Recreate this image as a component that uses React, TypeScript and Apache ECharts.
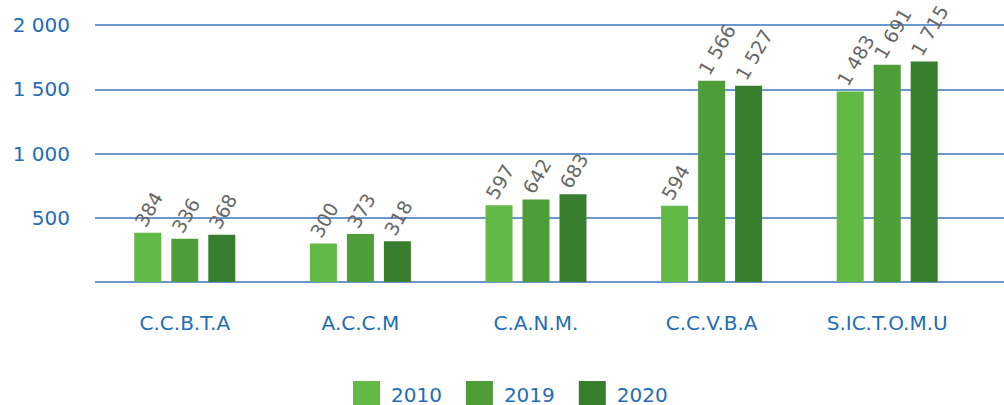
import React, { useEffect, useRef } from "react";
import * as echarts from "echarts";

const categories = ["C.C.B.T.A", "A.C.C.M", "C.A.N.M.", "C.C.V.B.A", "S.IC.T.O.M.U"];
const seriesNames = ["2010", "2019", "2020"];
const values2010 = [384, 300, 597, 594, 1483];
const values2019 = [336, 373, 642, 1566, 1691];
const values2020 = [368, 318, 683, 1527, 1715];
const colors = ["#62b946", "#4f9d38", "#377e2e"];

const fmt = (v: number) => String(v).replace(/\B(?=(\d{3})+(?!\d))/g, " ");

export default function App() {
  const ref = useRef<HTMLDivElement>(null);
  useEffect(() => {
    if (!ref.current) return;
    const chart = echarts.init(ref.current, undefined, { renderer: "svg" });
    const font = "'DejaVu Sans', sans-serif";
    const blue = "#1f6db5";
    const lineColor = "#3a76bb";
    const allValues = [values2010, values2019, values2020];
    chart.setOption({
      animation: false,
      textStyle: { fontFamily: font },
      grid: [
        { left: 97, right: 29, top: 25, height: 257 },
        { left: 95, right: 0, top: 25, height: 257 },
      ],
      legend: {
        data: seriesNames,
        left: 353,
        top: 381,
        padding: 0,
        itemWidth: 27,
        itemHeight: 27,
        itemGap: 24,
        icon: "rect",
        textStyle: { color: blue, fontSize: 20, fontFamily: font, padding: [0, 0, 0, 6] },
      },
      xAxis: [
        {
          type: "category",
          gridIndex: 0,
          data: categories,
          axisLine: { show: false },
          axisTick: { show: false },
          axisLabel: { color: blue, fontSize: 20, margin: 31, fontFamily: font },
        },
        {
          type: "category",
          gridIndex: 1,
          data: categories,
          show: false,
        },
      ],
      yAxis: [
        {
          type: "value",
          gridIndex: 0,
          min: 0,
          max: 2000,
          interval: 500,
          axisLine: { show: false },
          axisTick: { show: false },
          splitLine: { show: false },
          axisLabel: {
            color: blue,
            fontSize: 20,
            margin: 27,
            fontFamily: font,
            formatter: (v: number) => (v === 0 ? "" : fmt(v)),
          },
        },
        {
          type: "value",
          gridIndex: 1,
          min: 0,
          max: 2000,
          interval: 500,
          axisLine: { show: false },
          axisTick: { show: false },
          axisLabel: { show: false },
          splitLine: { show: true, lineStyle: { color: lineColor, width: 1.5 } },
        },
      ],
      series: seriesNames.map((name, i) => ({
        name,
        type: "bar",
        xAxisIndex: 0,
        yAxisIndex: 0,
        data: allValues[i],
        barWidth: 27,
        barGap: "37%",
        itemStyle: { color: colors[i] },
        label: {
          show: true,
          position: "top",
          rotate: 60,
          align: "left",
          verticalAlign: "bottom",
          distance: 3,
          color: "#666666",
          fontSize: 19,
          fontFamily: font,
          formatter: (p: any) => fmt(p.value),
        },
      })),
    });
    return () => chart.dispose();
  }, []);
  return (
    <div
      ref={ref}
      style={{ position: "absolute", left: 0, top: 0, width: 1004, height: 405 }}
    />
  );
}
